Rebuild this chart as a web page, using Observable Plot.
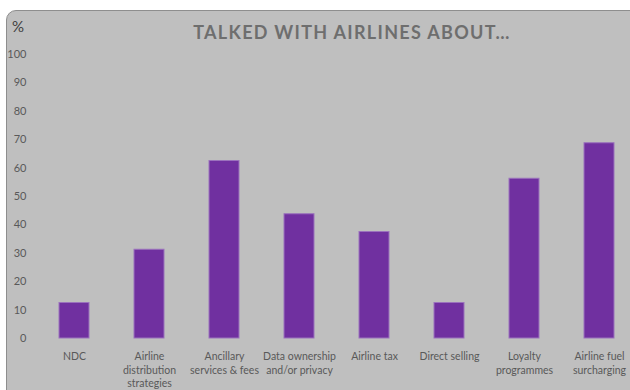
<!DOCTYPE html>
<html>
<head>
<meta charset="utf-8">
<script src="https://cdn.jsdelivr.net/npm/d3@7"></script>
<script src="https://cdn.jsdelivr.net/npm/@observablehq/plot@0.6"></script>
<style>
  html, body { margin: 0; padding: 0; background: #ffffff; }
  #wrap { position: relative; width: 630px; height: 390px; overflow: hidden; background: #ffffff; }
  #panel { position: absolute; left: 6px; top: 10px; width: 640px; height: 400px; background: #bfbfbf;
           border: 1px solid #8e8e8e; border-radius: 10px 0 0 0; box-sizing: border-box; }
  #title { position: absolute; left: 0; width: 630px; top: 21px; text-align: center; padding-left: 74px; box-sizing: border-box;
           font-family: Lato, "Open Sans", sans-serif; font-weight: bold; font-size: 18px; letter-spacing: 1.3px; color: #6e6e6e; }
  #unit { position: absolute; left: 12px; top: 17px; font-family: Lato, sans-serif; font-size: 15px; color: #404040; }
  #chart { position: absolute; left: 0; top: 0; }
</style>
</head>
<body>
<div id="wrap">
  <div id="panel"></div>
  <div id="unit">%</div>
  <div id="title">TALKED WITH AIRLINES ABOUT…</div>
  <div id="chart"></div>
</div>
<script>
const categories = [
  "NDC",
  "Airline\ndistribution\nstrategies",
  "Ancillary\nservices & fees",
  "Data ownership\nand/or privacy",
  "Airline tax",
  "Direct selling",
  "Loyalty\nprogrammes",
  "Airline fuel\nsurcharging"
];
const values = [12.5, 31.25, 62.5, 43.75, 37.5, 12.5, 56.25, 68.75];
const yTicks = [0, 10, 20, 30, 40, 50, 60, 70, 80, 90, 100];

const data = categories.map((c, i) => ({category: c, value: values[i]}));

const chart = Plot.plot({
  width: 630,
  height: 390,
  marginLeft: 29,
  marginRight: 0,
  marginTop: 54,
  marginBottom: 52,
  style: {background: "transparent", fontFamily: "Lato, 'Open Sans', sans-serif", color: "#595959"},
  x: {domain: categories, range: [35.3, 637.7], paddingInner: 0.6, paddingOuter: 0.3, align: 0.5},
  y: {domain: [0, 100], range: [338, 54]},
  marks: [
    Plot.barY(data, {x: "category", y: "value", fill: "#7030a0", stroke: "#9b72bd", strokeWidth: 1}),
    Plot.axisY({ticks: yTicks, tickSize: 0, tickPadding: 3, fontSize: 11, fill: "#595959", label: null}),
    Plot.axisX({tickSize: 0, tickPadding: 12, fontSize: 10.5, fill: "#595959", label: null, lineHeight: 1.3})
  ]
});
document.getElementById("chart").appendChild(chart);
</script>
</body>
</html>
